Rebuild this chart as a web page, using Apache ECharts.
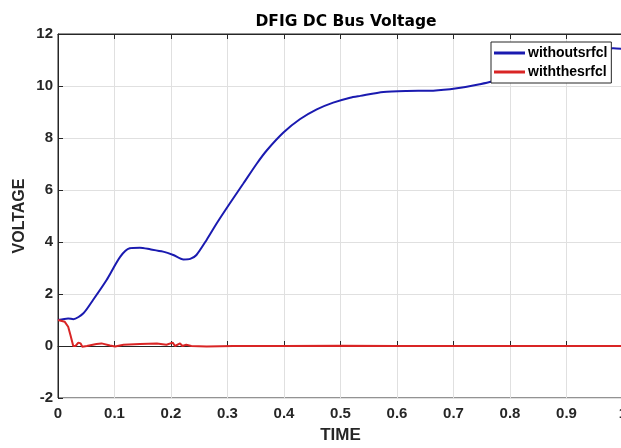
<!DOCTYPE html>
<html><head><meta charset="utf-8">
<script src="https://cdn.jsdelivr.net/npm/echarts@6/dist/echarts.min.js"></script>
<style>html,body{margin:0;padding:0;background:#fff}#c{width:621px;height:448px}</style>
</head><body><div id="c"></div>
<script>
var titleText = 'DFIG DC Bus Voltage';
var xLabel = 'TIME';
var yLabel = 'VOLTAGE';
var seriesNames = ['withoutsrfcl', 'withthesrfcl'];
var timeBlue = [0, 0.018, 0.027, 0.045, 0.062, 0.086, 0.110, 0.127, 0.145, 0.163, 0.186, 0.204, 0.222, 0.234, 0.245, 0.263, 0.281, 0.304, 0.328, 0.352, 0.369, 0.399, 0.428, 0.458, 0.487, 0.517, 0.535, 0.576, 0.617, 0.664, 0.706, 0.747, 0.768, 0.82, 0.87, 0.92, 0.96, 0.983, 1.0];
var valBlue = [1.0, 1.06, 1.03, 1.26, 1.77, 2.54, 3.43, 3.76, 3.78, 3.72, 3.63, 3.5, 3.33, 3.35, 3.5, 4.08, 4.72, 5.48, 6.25, 7.02, 7.51, 8.21, 8.72, 9.1, 9.36, 9.55, 9.62, 9.77, 9.81, 9.82, 9.91, 10.07, 10.17, 10.5, 10.85, 11.2, 11.4, 11.45, 11.42];
var timeRed = [0, 0.012, 0.018, 0.022, 0.027, 0.031, 0.036, 0.040, 0.043, 0.051, 0.068, 0.077, 0.092, 0.101, 0.116, 0.145, 0.175, 0.192, 0.203, 0.207, 0.216, 0.220, 0.227, 0.236, 0.263, 0.31, 0.4, 0.5, 0.6, 0.7, 0.8, 0.9, 1.0];
var valRed = [1.0, 0.93, 0.74, 0.42, 0.0, 0.0, 0.13, 0.1, -0.03, 0.0, 0.08, 0.1, 0.02, -0.02, 0.05, 0.08, 0.1, 0.05, 0.13, 0.0, 0.1, 0.0, 0.05, 0.0, -0.02, 0.0, 0.0, 0.01, 0.0, 0.0, 0.0, 0.0, 0.0];
var xTicks = [0, 1, 0.1];
var yTicks = [-2, 12, 2];

function pairs(t, v) { return t.map(function (x, i) { return [x, v[i]]; }); }

var font = 'Liberation Sans, Arial, sans-serif';
var axisCol = '#262626';
var chart = echarts.init(document.getElementById('c'));
chart.setOption({
  backgroundColor: '#fff',
  animation: false,
  title: { text: titleText, left: 341, textAlign: 'center', top: 9,
    textStyle: { fontFamily: 'DejaVu Sans', fontSize: 15.5, fontWeight: 'bold', color: '#000' } },
  grid: { left: 58, top: 34, right: -2, bottom: 50, show: true, borderColor: axisCol, borderWidth: 1,
    backgroundColor: 'transparent', outerBoundsMode: 'none', containLabel: false },
  legend: {
    orient: 'vertical', left: 491, top: 42, padding: [4, 4, 4, 3],
    backgroundColor: '#fff', borderColor: axisCol, borderWidth: 1, borderRadius: 0,
    itemWidth: 31, itemHeight: 3, itemGap: 5, icon: 'rect',
    textStyle: { fontFamily: font, fontSize: 14, fontWeight: 'bold', color: '#000', lineHeight: 14, padding: [0, 0, 0, -2] },
    data: seriesNames
  },
  xAxis: [{
    type: 'value', min: xTicks[0], max: xTicks[1], interval: xTicks[2],
    name: xLabel, nameLocation: 'middle', nameGap: 29,
    nameTextStyle: { fontFamily: font, fontSize: 17, fontWeight: 'bold', color: axisCol },
    axisLine: { show: true, lineStyle: { color: axisCol } },
    axisTick: { show: true, inside: true, length: 5, lineStyle: { color: axisCol } },
    axisLabel: { fontFamily: font, fontSize: 15, fontWeight: 'bold', color: axisCol, margin: 8, showMaxLabel: true,
      formatter: function (v) { return String(Math.round(v * 10) / 10); } },
    splitLine: { show: true, lineStyle: { color: '#e0e0e0' } }
  }, {
    type: 'value', position: 'top', min: xTicks[0], max: xTicks[1], interval: xTicks[2],
    axisLine: { show: true, lineStyle: { color: axisCol } },
    axisTick: { show: true, inside: true, length: 5, lineStyle: { color: axisCol } },
    axisLabel: { show: false }, splitLine: { show: false }
  }],
  yAxis: {
    type: 'value', min: yTicks[0], max: yTicks[1], interval: yTicks[2],
    name: yLabel, nameLocation: 'middle', nameGap: 30, nameRotate: 90, nameMoveOverlap: false,
    nameTextStyle: { fontFamily: font, fontSize: 16, fontWeight: 'bold', color: axisCol },
    axisLine: { show: true, lineStyle: { color: axisCol } },
    axisTick: { show: true, inside: true, length: 5, lineStyle: { color: axisCol } },
    axisLabel: { fontFamily: font, fontSize: 15, fontWeight: 'bold', color: axisCol, margin: 5 },
    splitLine: { show: true, lineStyle: { color: '#e0e0e0' } }
  },
  series: [{
    name: seriesNames[0], type: 'line', showSymbol: false, smooth: 0.25,
    data: pairs(timeBlue, valBlue), color: '#1a1ab0', lineStyle: { width: 2, color: '#1a1ab0' }, z: 3
  }, {
    name: seriesNames[1], type: 'line', showSymbol: false,
    data: pairs(timeRed, valRed), color: '#d92525', lineStyle: { width: 2, color: '#d92525' }, z: 4
  }]
});
</script></body></html>
